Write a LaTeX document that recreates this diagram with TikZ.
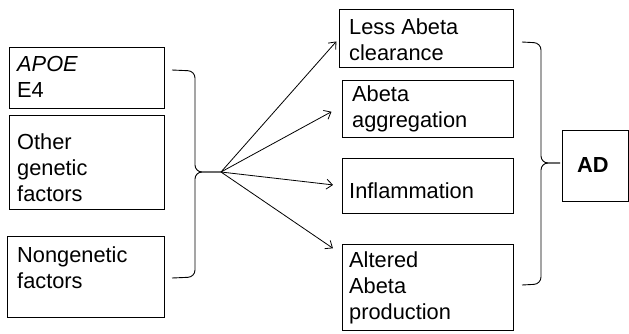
\documentclass[tikz,border=0pt]{standalone}
\usepackage{fontspec}
\setmainfont{Liberation Sans}
\usetikzlibrary{arrows.meta}
\begin{document}
\begin{tikzpicture}[x=1pt,y=-1pt,
  box/.style={draw, line width=0.9pt, inner sep=0pt, anchor=north west},
  % labels are placed by the baseline of their last line
  lbl/.style={inner sep=0pt, anchor=base west, align=left, font=\fontsize{21.8}{26}\selectfont},
  link/.style={line width=0.8pt, -{Straight Barb[length=6pt,width=10pt]}},
  brace/.style={line width=0.9pt, rounded corners=7pt}]
\useasboundingbox (0,0) rectangle (629,333);

% causes
\node[box, minimum width=155pt, minimum height=61pt] (apoe) at (9,47) {};
\node[box, minimum width=155pt, minimum height=94pt] (other) at (9,115) {};
\node[box, minimum width=157pt, minimum height=81pt] (nongen) at (7,236) {};
\node[lbl] (apoeT) at (17,97) {\textit{APOE}\\E4};
\node[lbl] (otherT) at (17,201) {Other\\genetic\\factors};
\node[lbl] (nongenT) at (17,288) {Nongenetic\\factors};

% mechanisms
\node[box, minimum width=174pt, minimum height=58pt] (less) at (339,9) {};
\node[box, minimum width=171pt, minimum height=57pt] (agg) at (342,80) {};
\node[box, minimum width=171pt, minimum height=55pt] (infl) at (342,158) {};
\node[box, minimum width=171pt, minimum height=86pt] (alt) at (342,244) {};
\node[lbl] (lessT) at (349,60) {Less Abeta\\clearance};
\node[lbl] (aggT) at (352,127) {Abeta\\aggregation};
\node[lbl] (inflT) at (349,198) {Inflammation};
\node[lbl] (altT) at (349,319) {Altered\\Abeta\\production};

% outcome
\node[box, minimum width=66pt, minimum height=71pt] (ad) at (562,130) {};
\node[lbl] (adT) at (577,172) {\textbf{AD}};

% braces
\coordinate (src) at (221,172);
\coordinate (adin) at (560,163);
\draw[brace] (172,70) -- (195,71) -- (195,172) -- (src);
\draw[brace] (src) -- (195,172) -- (195,277) -- (172,278);
\draw[brace] (522,42) -- (541,43) -- (541,163) -- (adin);
\draw[brace] (adin) -- (541,163) -- (541,284) -- (522,285);

% arrows
\draw[link, shorten >=4pt] (src) -- (less.west);
\draw[link, shorten >=12pt] (src) -- (agg.178);
\draw[link, shorten >=9pt] (src) -- (infl.west);
\draw[link, shorten >=11pt] (src) -- (alt.159);
\end{tikzpicture}
\end{document}
